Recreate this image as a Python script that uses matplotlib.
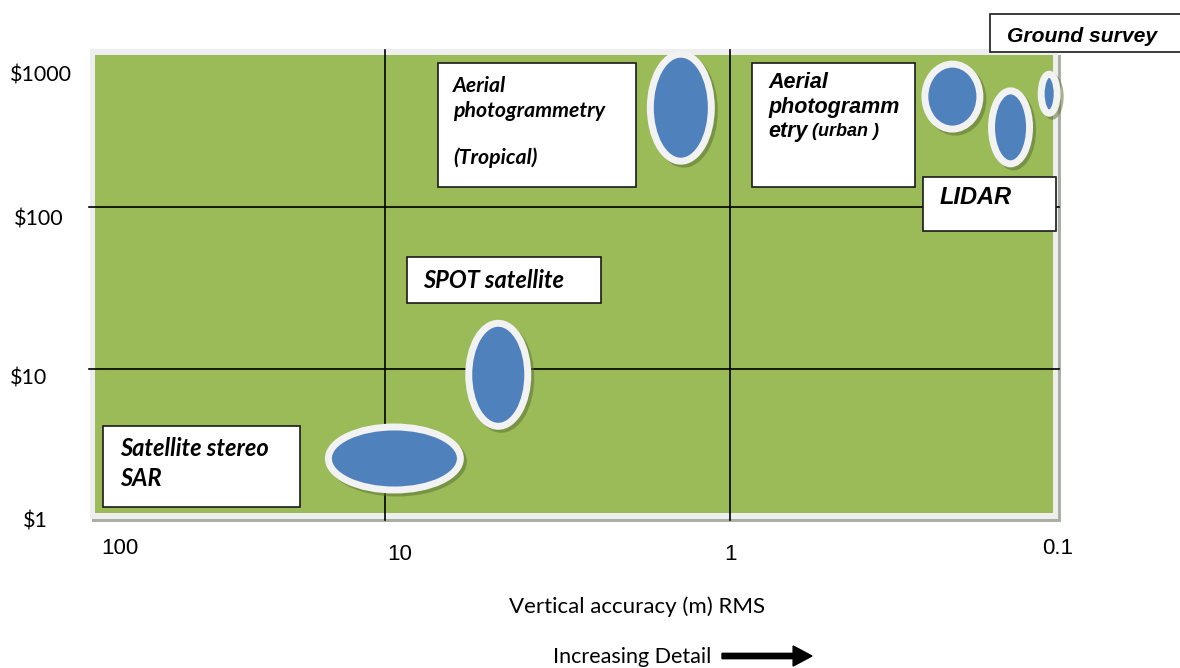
"""
Cost versus vertical accuracy of elevation survey techniques.
"""

import matplotlib.pyplot as plt
from matplotlib.patches import Ellipse, Rectangle, FancyArrow
from matplotlib.transforms import ScaledTranslation

# Technique bubbles: vertical accuracy (m RMS) and cost ($ per km2)
accuracy = [9.4, 4.7, 1.39, 0.227, 0.154, 0.119]
cost = [2.8, 9.2, 410, 480, 310, 500]
# bubble extents on the page, pixels (width, height)
bubble_px = [(132, 63), (59, 103), (61, 107), (55, 65), (38, 73), (16, 39)]

x_ticks = ["100", "10", "1", "0.1"]
y_ticks = ["$1000", "$100", "$10", "$1"]
x_grid = [10, 1]
y_grid = [100, 10]

W, H = 1180, 668
GREEN = '#9BBB59'
BLUE = '#4F81BD'
CALIBRI = ['Lato', 'Open Sans', 'DejaVu Sans']
ARIAL = ['Liberation Sans', 'DejaVu Sans']
NARROW = ['Liberation Sans Narrow', 'Liberation Sans', 'DejaVu Sans']


def fx(px):
    return px / W


def fy(py):
    return 1 - py / H


fig = plt.figure(figsize=(W / 100, H / 100), dpi=100)

# light frame and shadow behind the plot area
frame = [((92, 519, 1061, 522), '#A8B0A4'),
         ((1058, 55, 1061, 520), '#A8B0A4'),
         ((90, 49, 1058, 519), '#EEEEEE')]
for (x0, y0, x1, y1), c in frame:
    fig.patches.append(Rectangle((fx(x0), fy(y1)), fx(x1) - fx(x0), fy(y0) - fy(y1),
                                 transform=fig.transFigure, facecolor=c,
                                 edgecolor='none', zorder=-2))

ax = fig.add_axes([fx(95), fy(513), fx(1053) - fx(95), fy(55) - fy(513)])
ax.set_zorder(1)
ax.set_facecolor(GREEN)
ax.set_xscale('log')
ax.set_yscale('log')
ax.set_xlim(69.3, 0.116)
ax.set_ylim(1.29, 867)
ax.set_xticks([])
ax.set_yticks([])
ax.minorticks_off()
for s in ax.spines.values():
    s.set_visible(False)

for xv in x_grid:
    ax.axvline(xv, ymin=-0.016, ymax=1.01, color='black', lw=1.2, clip_on=False, zorder=1)
for yv in y_grid:
    ax.axhline(yv, xmin=-0.006, xmax=1.006, color='black', lw=1.2, clip_on=False, zorder=1)

# bubbles: drop shadow, white ring, blue fill
for xv, yv, (w, h) in zip(accuracy, cost, bubble_px):
    anchor = ScaledTranslation(xv, yv, ax.transData)
    shadow = Ellipse((0.03, -0.03), (w + 7) / 100, (h + 7) / 100,
                     transform=fig.dpi_scale_trans + anchor,
                     facecolor='#5E7236', alpha=0.55, edgecolor='none',
                     zorder=2, clip_on=False)
    ax.add_patch(shadow)
    ell = Ellipse((0, 0), w / 100, h / 100,
                  transform=fig.dpi_scale_trans + anchor,
                  facecolor=BLUE, edgecolor='#F2F2F2', lw=5,
                  zorder=3, clip_on=False)
    ax.add_patch(ell)


def label_box(x0, y0, x1, y1):
    ax.add_patch(Rectangle((fx(x0), fy(y1)), fx(x1) - fx(x0), fy(y0) - fy(y1),
                           transform=fig.transFigure, facecolor='white',
                           edgecolor='#1a1a1a', lw=1.2, zorder=4, clip_on=False))


def box_text(x, y, s, size, family=CALIBRI):
    ax.text(fx(x), fy(y), s, transform=fig.transFigure, fontsize=size,
            family=family, style='italic', weight='bold', ha='left',
            va='center', zorder=5, clip_on=False)


label_box(103, 426, 300, 507)
box_text(120, 449, "Satellite stereo", 17)
box_text(120, 478, "SAR", 17)

label_box(407, 257, 601, 303)
box_text(423, 281, "SPOT satellite", 17)

label_box(438, 63, 636, 187)
box_text(453, 86, "Aerial", 15.3)
box_text(453, 111, "photogrammetry", 15.3)
box_text(453, 158, "(Tropical)", 15.3)

label_box(752, 63, 915, 187)
box_text(768, 83, "Aerial", 15.5, ARIAL)
box_text(768, 107, "photogramm", 15.5, ARIAL)
box_text(768, 132, "etry", 15.5, ARIAL)
box_text(812, 132, "(urban )", 13, ARIAL)

label_box(923, 177, 1056, 231)
box_text(940, 198, "LIDAR", 17, ARIAL)

label_box(990, 14, 1190, 52)
box_text(1007, 36, "Ground survey", 15.2, ARIAL)

# tick labels
for s, px in zip(x_ticks, [120, 400, 730, 1058]):
    py = 548 if s in ("100", "0.1") else 555
    fig.text(fx(px), fy(py), s, ha='center', va='center', fontsize=16,
             family=NARROW)
for s, px, py in zip(y_ticks, [10, 14, 10, 23], [75, 219, 379, 522]):
    fig.text(fx(px), fy(py), s, ha='left', va='center', fontsize=15.5,
             family=CALIBRI)

fig.text(fx(637), fy(607), "Vertical accuracy (m) RMS", ha='center', va='center',
         fontsize=16, family=CALIBRI)
fig.text(fx(632), fy(657), "Increasing Detail", ha='center', va='center',
         fontsize=15.5, family=CALIBRI)
fig.patches.append(FancyArrow(fx(722), fy(656), fx(812) - fx(722), 0,
                              width=0.008, head_width=0.03, head_length=0.016,
                              length_includes_head=True, color='black',
                              transform=fig.transFigure))

plt.savefig('out.png', dpi=100)
plt.close()
